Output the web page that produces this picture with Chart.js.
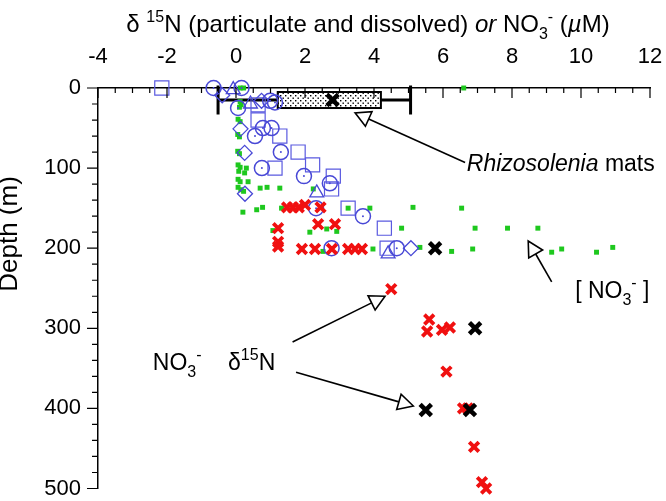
<!DOCTYPE html>
<html>
<head>
<meta charset="utf-8">
<script src="https://cdn.jsdelivr.net/npm/chart.js@4.4.0/dist/chart.umd.min.js"></script>
<style>
  body { margin: 0; background: #fff; }
  #wrap { width: 666px; height: 501px; }
</style>
</head>
<body>
<div id="wrap"><canvas id="profileChart"></canvas></div>
<script>
// axes
const xRange = [-4, 12];
const xStep = 2;
const xMinorStep = 0.5;
const depthRange = [0, 500];
const depthStep = 100;
const depthMinorStep = 20;

// [NO3-] in uM, as [value, depth]
const nitrateConc = [
  [0.12, 0], [0.22, 0], [6.6, 0],
  [0.12, 17], [0.15, 21], [0.1, 24],
  [0.06, 39], [0.12, 42], [0.05, 58], [0.1, 61], [0.05, 79], [0.1, 82],
  [0.06, 96], [0.12, 99], [0.3, 100], [0.08, 104], [0.25, 106],
  [0.06, 114], [0.12, 117], [0.35, 117], [0.06, 124], [0.14, 127], [0.22, 129],
  [0.7, 125], [0.9, 124], [1.27, 125], [2.24, 126],
  [0.2, 155], [0.6, 152], [0.77, 149], [1.32, 150], [3.25, 150], [3.88, 150], [5.13, 149], [6.54, 150],
  [1.07, 178], [2.14, 180], [2.63, 176], [2.92, 179], [4.8, 175], [6.93, 175], [7.87, 175], [8.75, 175],
  [2.52, 204], [3.97, 201], [5.33, 199], [6.25, 204], [6.86, 201], [9.15, 205], [9.44, 201], [10.45, 205], [10.92, 199]
];

// particulate / dissolved d15N, one array per marker
const pnSquares = [
  [-2.15, 0], [0.64, 21], [0.64, 40], [1.27, 60], [1.8, 80], [2.22, 96], [1.13, 100],
  [2.82, 110], [2.77, 126], [3.25, 150], [4.3, 175], [4.38, 200]
];
const pnCircles = [
  [-0.65, 0], [0.16, 0], [0.06, 25], [0.99, 16], [1.13, 18], [0.78, 50], [1.03, 50], [0.55, 60],
  [1.3, 80], [0.75, 100], [1.97, 110], [2.72, 119], [2.32, 150], [3.68, 160], [2.77, 200], [4.66, 200]
];
const pnDiamonds = [[-0.4, 9], [0.74, 16], [0.13, 51], [0.25, 81], [0.26, 132], [5.07, 200]];
const pnTriangles = [[-0.08, 2], [0.42, 20], [2.34, 131], [4.41, 207]];

// nitrate d15N
const nitrateD15N = [
  [1.48, 149], [1.65, 149], [1.82, 149], [2.0, 146], [2.45, 149],
  [2.38, 170], [2.87, 170], [1.22, 175], [1.22, 192], [1.22, 198],
  [1.91, 201], [2.29, 201], [2.78, 201], [3.25, 201], [3.45, 201], [3.65, 201],
  [4.5, 251], [5.6, 289], [5.54, 304], [5.97, 302], [6.2, 299],
  [6.1, 354], [6.58, 400], [6.72, 400], [6.9, 448], [7.13, 492], [7.25, 500]
];
const nitrateD15N2 = [[5.77, 200], [6.93, 300], [5.5, 402], [6.78, 402]];

// Rhizosolenia mats summary
const matsWhisker = [-0.52, 5.06];
const matsBox = [1.21, 4.2];
const matsMedian = 2.8;
const matsDepth = [5, 15, 25];
const matsCapDepth = [-3, 33];

// callouts: from [x, depth] to [x, depth]
const callouts = [
  [[6.64, 93], [3.45, 31]],
  [[9.15, 242], [8.47, 191]],
  [[1.64, 317], [4.32, 260]],
  [[1.74, 355], [5.14, 397]]
];

const FONT = '"Liberation Sans", Arial, Helvetica, sans-serif';
const blue = '#4848d6';
const toPts = arr => arr.map(([x, y]) => ({ x, y }));

function drawRuns(ctx, runs, x, y, align) {
  let total = 0;
  runs.forEach(r => { ctx.font = r[1]; total += ctx.measureText(r[0]).width; });
  let cx = align === 'center' ? x - total / 2 : x;
  ctx.textAlign = 'left';
  ctx.textBaseline = 'alphabetic';
  runs.forEach(r => {
    ctx.font = r[1];
    ctx.fillText(r[0], cx, y + (r[2] || 0));
    cx += ctx.measureText(r[0]).width;
  });
}

function arrow(ctx, x0, y0, x1, y1) {
  const ang = Math.atan2(y1 - y0, x1 - x0);
  const len = 15, half = 8;
  const bx = x1 - Math.cos(ang) * len, by = y1 - Math.sin(ang) * len;
  ctx.beginPath();
  ctx.moveTo(x0, y0);
  ctx.lineTo(bx, by);
  ctx.stroke();
  ctx.beginPath();
  ctx.moveTo(x1, y1);
  ctx.lineTo(bx + Math.sin(ang) * half, by - Math.cos(ang) * half);
  ctx.lineTo(bx - Math.sin(ang) * half, by + Math.cos(ang) * half);
  ctx.closePath();
  ctx.fillStyle = '#fff';
  ctx.fill();
  ctx.stroke();
}

// dotted fill for the mats box
const dots = document.createElement('canvas');
dots.width = 5; dots.height = 5;
const dctx = dots.getContext('2d');
dctx.fillStyle = '#000';
dctx.fillRect(0, 0, 1.4, 1.4);
dctx.fillRect(2.5, 2.5, 1.4, 1.4);

const decor = {
  id: 'decor',
  beforeDatasetsDraw(chart) {
    const { ctx, scales: { x, y } } = chart;
    ctx.save();
    ctx.strokeStyle = '#000';
    ctx.lineWidth = 3;
    ctx.beginPath();
    ctx.moveTo(x.getPixelForValue(matsWhisker[0]), y.getPixelForValue(matsDepth[1]));
    ctx.lineTo(x.getPixelForValue(matsWhisker[1]), y.getPixelForValue(matsDepth[1]));
    matsWhisker.forEach(v => {
      ctx.moveTo(x.getPixelForValue(v), y.getPixelForValue(matsCapDepth[0]));
      ctx.lineTo(x.getPixelForValue(v), y.getPixelForValue(matsCapDepth[1]));
    });
    ctx.stroke();
    const bx = x.getPixelForValue(matsBox[0]);
    const bw = x.getPixelForValue(matsBox[1]) - bx;
    const by = y.getPixelForValue(matsDepth[0]);
    const bh = y.getPixelForValue(matsDepth[2]) - by;
    ctx.fillStyle = '#fff';
    ctx.fillRect(bx, by, bw, bh);
    ctx.fillStyle = ctx.createPattern(dots, 'repeat');
    ctx.fillRect(bx, by, bw, bh);
    ctx.lineWidth = 2;
    ctx.strokeRect(bx, by, bw, bh);
    ctx.restore();
  },
  afterDraw(chart) {
    const { ctx, chartArea, scales: { x, y } } = chart;
    ctx.save();
    ctx.strokeStyle = '#000';
    ctx.fillStyle = '#000';
    // tick marks: inward on top axis, outward on depth axis
    ctx.lineWidth = 1.2;
    ctx.beginPath();
    for (let v = xRange[0]; v <= xRange[1]; v += xMinorStep) {
      const px = x.getPixelForValue(v);
      const len = v % xStep === 0 ? 10 : 5;
      ctx.moveTo(px, chartArea.top);
      ctx.lineTo(px, chartArea.top + len);
    }
    for (let d = depthRange[0]; d <= depthRange[1]; d += depthMinorStep) {
      const py = y.getPixelForValue(d);
      const len = d % depthStep === 0 ? 11 : 6;
      ctx.moveTo(chartArea.left, py);
      ctx.lineTo(chartArea.left - len, py);
    }
    ctx.stroke();

    // callout arrows
    ctx.lineWidth = 1.6;
    callouts.forEach(([a, b]) => {
      arrow(ctx, x.getPixelForValue(a[0]), y.getPixelForValue(a[1]),
        x.getPixelForValue(b[0]), y.getPixelForValue(b[1]));
    });

    // texts
    ctx.fillStyle = '#000';
    const big = '24px ' + FONT, bigI = 'italic 24px ' + FONT, sm = '16px ' + FONT;
    drawRuns(ctx, [
      ['δ ', big], ['15', sm, -10], ['N (particulate and dissolved) ', big],
      ['or', bigI], [' NO', big], ['3', sm, 7], ['-', sm, -10], [' (', big], ['µ', bigI], ['M)', big]
    ], 368, 32, 'center');

    const an = '23px ' + FONT, anI = 'italic 23px ' + FONT, anS = '16px ' + FONT;
    drawRuns(ctx, [['Rhizosolenia', anI], [' mats', an]],
      x.getPixelForValue(6.69), y.getPixelForValue(103), 'left');
    drawRuns(ctx, [['[ NO', an], ['3', anS, 7], ['-', anS, -10], [' ]', an]],
      x.getPixelForValue(9.83), y.getPixelForValue(262), 'left');
    drawRuns(ctx, [['NO', an], ['3', anS, 7], ['-', anS, -10]],
      x.getPixelForValue(-2.41), y.getPixelForValue(352), 'left');
    drawRuns(ctx, [['δ', an], ['15', anS, -10], ['N', an]],
      x.getPixelForValue(-0.23), y.getPixelForValue(352), 'left');

    ctx.translate(17, 234);
    ctx.rotate(-Math.PI / 2);
    ctx.font = '26px ' + FONT;
    ctx.textAlign = 'center';
    ctx.textBaseline = 'alphabetic';
    ctx.fillText('Depth (m)', 0, 0);
    ctx.restore();
  }
};

const markerDefaults = { showLine: false, clip: false, pointHoverRadius: 0 };

new Chart(document.getElementById('profileChart'), {
  type: 'scatter',
  data: {
    datasets: [
      { ...markerDefaults, label: 'NO3- d15N (b)', data: toPts(nitrateD15N2),
        pointStyle: 'crossRot', pointRadius: 8, borderWidth: 4.5, borderColor: '#000' },
      { ...markerDefaults, label: 'mats median', data: [{ x: matsMedian, y: matsDepth[1] }],
        pointStyle: 'crossRot', pointRadius: 8, borderWidth: 4.5, borderColor: '#000' },
      { ...markerDefaults, label: 'NO3- d15N', data: toPts(nitrateD15N),
        pointStyle: 'crossRot', pointRadius: 6.8, borderWidth: 3.8, borderColor: '#f01010' },
      { ...markerDefaults, label: 'circle centres', data: toPts(pnCircles),
        pointStyle: 'circle', pointRadius: 1, borderWidth: 0, backgroundColor: blue },
      { ...markerDefaults, label: 'circles', data: toPts(pnCircles),
        pointStyle: 'circle', pointRadius: 7.5, borderWidth: 1.5, borderColor: blue, backgroundColor: 'rgba(0,0,0,0)' },
      { ...markerDefaults, label: 'squares', data: toPts(pnSquares),
        pointStyle: 'rect', pointRadius: 10, borderWidth: 1.2, borderColor: '#5a5ae0', backgroundColor: 'rgba(0,0,0,0)' },
      { ...markerDefaults, label: 'diamonds', data: toPts(pnDiamonds),
        pointStyle: 'rectRot', pointRadius: 7.5, borderWidth: 1.3, borderColor: blue, backgroundColor: 'rgba(0,0,0,0)' },
      { ...markerDefaults, label: 'triangles', data: toPts(pnTriangles),
        pointStyle: 'triangle', pointRadius: 8, borderWidth: 1.3, borderColor: blue, backgroundColor: 'rgba(0,0,0,0)' },
      { ...markerDefaults, label: '[NO3-]', data: toPts(nitrateConc),
        pointStyle: 'rect', pointRadius: 3.5, borderWidth: 0, backgroundColor: '#1ec81e' }
    ]
  },
  options: {
    responsive: true,
    maintainAspectRatio: false,
    animation: false,
    events: [],
    layout: { padding: { top: 0, left: 0, right: 16, bottom: 10 } },
    plugins: { legend: { display: false }, tooltip: { enabled: false } },
    scales: {
      x: {
        type: 'linear',
        position: 'top',
        min: xRange[0],
        max: xRange[1],
        afterFit: s => { s.height = 88; s.paddingLeft = 0; s.paddingRight = 0; },
        grid: { display: false, drawTicks: false },
        border: { display: true, color: '#000', width: 1.5 },
        ticks: { stepSize: xStep, autoSkip: false, maxRotation: 0, padding: 18, color: '#000',
          font: { family: FONT, size: 22 } }
      },
      y: {
        type: 'linear',
        reverse: true,
        min: depthRange[0],
        max: depthRange[1],
        afterFit: s => { s.width = 98; s.paddingTop = 0; s.paddingBottom = 0; },
        grid: { display: false, drawTicks: false },
        border: { display: true, color: '#000', width: 1.5 },
        ticks: { stepSize: depthStep, autoSkip: false, padding: 17, color: '#000',
          font: { family: FONT, size: 22 } }
      }
    }
  },
  plugins: [decor]
});
</script>
</body>
</html>
